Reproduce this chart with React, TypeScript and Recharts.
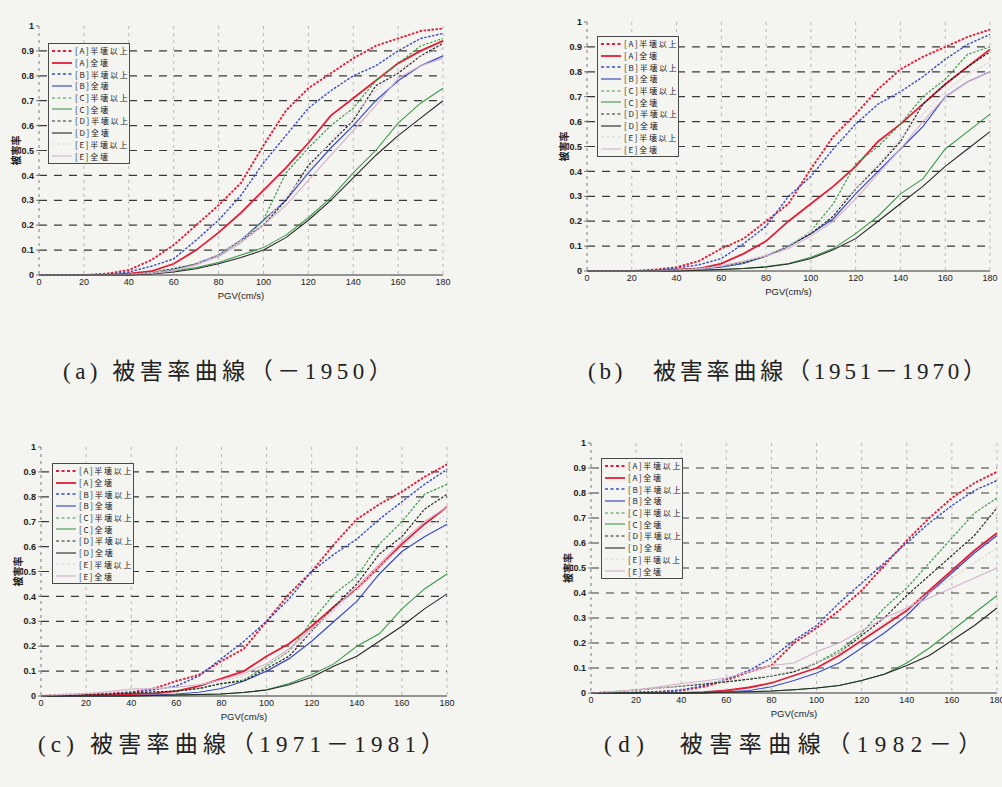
import React from 'react';
import { LineChart, Line, XAxis, YAxis, CartesianGrid, ReferenceLine, Legend } from 'recharts';

// PGV (cm/s) sample points
const pgv = [0, 10, 20, 30, 40, 50, 60, 70, 80, 90, 100, 110, 120, 130, 140, 150, 160, 170, 180];
const xTicks = [0, 20, 40, 60, 80, 100, 120, 140, 160, 180];
const yTicks = [0, 0.1, 0.2, 0.3, 0.4, 0.5, 0.6, 0.7, 0.8, 0.9, 1];
const hLines = [0.1, 0.2, 0.3, 0.4, 0.5, 0.6, 0.7, 0.8, 0.9];

// (a) -1950
const a_A_half = [0, 0, 0, 0.005, 0.02, 0.06, 0.12, 0.2, 0.28, 0.37, 0.52, 0.66, 0.75, 0.81, 0.87, 0.92, 0.95, 0.98, 0.99];
const a_A_full = [0, 0, 0, 0, 0.005, 0.015, 0.045, 0.1, 0.17, 0.25, 0.34, 0.43, 0.53, 0.64, 0.71, 0.78, 0.85, 0.9, 0.94];
const a_B_half = [0, 0, 0, 0.003, 0.012, 0.035, 0.065, 0.14, 0.22, 0.32, 0.45, 0.56, 0.67, 0.74, 0.8, 0.84, 0.9, 0.95, 0.97];
const a_B_full = [0, 0, 0, 0, 0.003, 0.008, 0.02, 0.045, 0.08, 0.14, 0.22, 0.3, 0.41, 0.51, 0.6, 0.7, 0.78, 0.84, 0.88];
const a_C_half = [0, 0, 0, 0, 0.003, 0.01, 0.025, 0.045, 0.075, 0.13, 0.22, 0.41, 0.51, 0.6, 0.67, 0.78, 0.85, 0.92, 0.95];
const a_C_full = [0, 0, 0, 0, 0, 0.005, 0.015, 0.03, 0.05, 0.08, 0.11, 0.16, 0.23, 0.31, 0.41, 0.5, 0.61, 0.69, 0.75];
const a_D_half = [0, 0, 0, 0, 0.003, 0.01, 0.025, 0.045, 0.08, 0.14, 0.2, 0.3, 0.44, 0.53, 0.62, 0.76, 0.81, 0.88, 0.93];
const a_D_full = [0, 0, 0, 0, 0, 0.004, 0.012, 0.025, 0.045, 0.07, 0.1, 0.15, 0.22, 0.3, 0.39, 0.48, 0.56, 0.63, 0.7];
const a_E_half = [0, 0, 0, 0, 0.003, 0.01, 0.02, 0.045, 0.08, 0.14, 0.21, 0.31, 0.42, 0.54, 0.64, 0.74, 0.82, 0.88, 0.91];
const a_E_full = [0, 0, 0, 0, 0.002, 0.006, 0.016, 0.04, 0.075, 0.13, 0.2, 0.28, 0.38, 0.48, 0.58, 0.68, 0.79, 0.84, 0.87];

// (b) 1951-1970
const b_A_half = [0, 0, 0, 0.005, 0.015, 0.04, 0.09, 0.13, 0.2, 0.27, 0.41, 0.54, 0.63, 0.73, 0.81, 0.86, 0.9, 0.94, 0.97];
const b_A_full = [0, 0, 0, 0, 0.005, 0.01, 0.03, 0.07, 0.12, 0.2, 0.27, 0.34, 0.42, 0.52, 0.59, 0.67, 0.75, 0.82, 0.89];
const b_B_half = [0, 0, 0, 0.004, 0.012, 0.025, 0.05, 0.11, 0.18, 0.3, 0.38, 0.49, 0.59, 0.67, 0.72, 0.78, 0.85, 0.91, 0.95];
const b_B_full = [0, 0, 0, 0, 0.003, 0.008, 0.015, 0.03, 0.06, 0.1, 0.15, 0.21, 0.31, 0.4, 0.49, 0.58, 0.7, 0.76, 0.8];
const b_C_half = [0, 0, 0, 0, 0.005, 0.01, 0.02, 0.035, 0.06, 0.1, 0.16, 0.27, 0.43, 0.5, 0.59, 0.7, 0.77, 0.87, 0.9];
const b_C_full = [0, 0, 0, 0, 0, 0.003, 0.006, 0.01, 0.018, 0.03, 0.055, 0.09, 0.15, 0.22, 0.31, 0.37, 0.49, 0.56, 0.63];
const b_D_half = [0, 0, 0, 0, 0.005, 0.01, 0.02, 0.035, 0.06, 0.1, 0.15, 0.22, 0.33, 0.42, 0.52, 0.67, 0.75, 0.82, 0.88];
const b_D_full = [0, 0, 0, 0, 0, 0.003, 0.006, 0.01, 0.016, 0.028, 0.05, 0.085, 0.13, 0.2, 0.27, 0.34, 0.42, 0.49, 0.56];
const b_E_half = [0, 0, 0, 0, 0.004, 0.01, 0.02, 0.04, 0.065, 0.1, 0.16, 0.24, 0.33, 0.43, 0.53, 0.63, 0.72, 0.79, 0.84];
const b_E_full = [0, 0, 0, 0, 0.003, 0.008, 0.02, 0.04, 0.06, 0.09, 0.14, 0.2, 0.29, 0.39, 0.49, 0.6, 0.7, 0.76, 0.8];

// (c) 1971-1981
const c_A_half = [0, 0.005, 0.008, 0.01, 0.015, 0.03, 0.06, 0.085, 0.14, 0.19, 0.3, 0.41, 0.5, 0.61, 0.71, 0.77, 0.82, 0.88, 0.93];
const c_A_full = [0, 0, 0.003, 0.005, 0.008, 0.01, 0.02, 0.04, 0.07, 0.1, 0.16, 0.21, 0.28, 0.36, 0.43, 0.52, 0.61, 0.69, 0.76];
const c_B_half = [0, 0.003, 0.005, 0.008, 0.015, 0.025, 0.04, 0.08, 0.15, 0.22, 0.3, 0.39, 0.5, 0.57, 0.63, 0.71, 0.78, 0.85, 0.91];
const c_B_full = [0, 0, 0, 0, 0.002, 0.004, 0.008, 0.015, 0.03, 0.06, 0.1, 0.15, 0.22, 0.3, 0.38, 0.49, 0.58, 0.64, 0.69];
const c_C_half = [0, 0.002, 0.005, 0.008, 0.012, 0.016, 0.02, 0.03, 0.05, 0.065, 0.12, 0.18, 0.3, 0.41, 0.48, 0.61, 0.7, 0.81, 0.85];
const c_C_full = [0, 0, 0, 0, 0, 0.002, 0.004, 0.006, 0.008, 0.015, 0.025, 0.05, 0.085, 0.13, 0.2, 0.25, 0.35, 0.43, 0.49];
const c_D_half = [0, 0.002, 0.005, 0.008, 0.012, 0.016, 0.02, 0.03, 0.05, 0.06, 0.11, 0.16, 0.26, 0.36, 0.45, 0.57, 0.64, 0.75, 0.81];
const c_D_full = [0, 0, 0, 0, 0, 0.002, 0.004, 0.006, 0.008, 0.014, 0.024, 0.045, 0.075, 0.12, 0.16, 0.22, 0.28, 0.35, 0.41];
const c_E_half = [0, 0.005, 0.01, 0.015, 0.025, 0.03, 0.035, 0.045, 0.06, 0.08, 0.12, 0.18, 0.26, 0.34, 0.43, 0.52, 0.6, 0.67, 0.73];
const c_E_full = [0, 0.005, 0.01, 0.018, 0.028, 0.03, 0.035, 0.045, 0.065, 0.09, 0.13, 0.19, 0.27, 0.35, 0.44, 0.53, 0.62, 0.7, 0.76];

// (d) 1982-
const d_A_half = [0, 0, 0.002, 0.005, 0.01, 0.025, 0.05, 0.085, 0.11, 0.2, 0.26, 0.33, 0.41, 0.51, 0.61, 0.7, 0.78, 0.84, 0.885];
const d_A_full = [0, 0, 0, 0, 0, 0.003, 0.01, 0.022, 0.04, 0.07, 0.1, 0.15, 0.21, 0.27, 0.33, 0.41, 0.49, 0.57, 0.64];
const d_B_half = [0, 0, 0.002, 0.005, 0.012, 0.03, 0.055, 0.09, 0.14, 0.21, 0.27, 0.36, 0.44, 0.52, 0.6, 0.68, 0.75, 0.81, 0.85];
const d_B_full = [0, 0, 0, 0, 0, 0, 0.004, 0.01, 0.025, 0.05, 0.08, 0.12, 0.18, 0.24, 0.31, 0.4, 0.48, 0.56, 0.63];
const d_C_half = [0, 0.005, 0.012, 0.02, 0.028, 0.036, 0.045, 0.055, 0.068, 0.085, 0.12, 0.17, 0.24, 0.34, 0.42, 0.52, 0.62, 0.72, 0.78];
const d_C_full = [0, 0, 0, 0, 0, 0.001, 0.003, 0.005, 0.008, 0.013, 0.02, 0.03, 0.05, 0.075, 0.12, 0.18, 0.25, 0.32, 0.39];
const d_D_half = [0, 0.005, 0.012, 0.02, 0.028, 0.036, 0.045, 0.055, 0.068, 0.085, 0.12, 0.16, 0.23, 0.3, 0.39, 0.47, 0.55, 0.63, 0.74];
const d_D_full = [0, 0, 0, 0, 0, 0.001, 0.003, 0.005, 0.008, 0.013, 0.02, 0.03, 0.05, 0.075, 0.11, 0.15, 0.21, 0.27, 0.34];
const d_E_half = [0, 0.005, 0.012, 0.02, 0.03, 0.04, 0.05, 0.06, 0.07, 0.09, 0.12, 0.16, 0.22, 0.28, 0.34, 0.4, 0.46, 0.52, 0.58];
const d_E_full = [0, 0.005, 0.013, 0.025, 0.038, 0.048, 0.06, 0.085, 0.11, 0.12, 0.165, 0.2, 0.25, 0.3, 0.34, 0.38, 0.42, 0.46, 0.5];

const SERIES = [
  { key: 'A_half', name: '[A]半壊以上', color: '#e11f38', dash: '2.5 1.5', width: 1.9 },
  { key: 'A_full', name: '[A]全壊', color: '#e11f38', dash: undefined, width: 1.8 },
  { key: 'B_half', name: '[B]半壊以上', color: '#3a4cc4', dash: '2.5 1.5', width: 1.4 },
  { key: 'B_full', name: '[B]全壊', color: '#3a4cc4', dash: undefined, width: 1.2 },
  { key: 'C_half', name: '[C]半壊以上', color: '#3c9a4a', dash: '2.5 1.5', width: 1.2 },
  { key: 'C_full', name: '[C]全壊', color: '#3c9a4a', dash: undefined, width: 1.1 },
  { key: 'D_half', name: '[D]半壊以上', color: '#262626', dash: '2.5 1.5', width: 1.2 },
  { key: 'D_full', name: '[D]全壊', color: '#262626', dash: undefined, width: 1.1 },
  { key: 'E_half', name: '[E]半壊以上', color: '#e0d2d8', dash: '2.5 1.5', width: 1.1 },
  { key: 'E_full', name: '[E]全壊', color: '#d6b0cc', dash: undefined, width: 1.1 },
];

function build(arrs: number[][]) {
  return pgv.map((x, i) => {
    const row: any = { pgv: x };
    SERIES.forEach((s, k) => { row[s.key] = arrs[k][i]; });
    return row;
  });
}

const dataA = build([a_A_half, a_A_full, a_B_half, a_B_full, a_C_half, a_C_full, a_D_half, a_D_full, a_E_half, a_E_full]);
const dataB = build([b_A_half, b_A_full, b_B_half, b_B_full, b_C_half, b_C_full, b_D_half, b_D_full, b_E_half, b_E_full]);
const dataC = build([c_A_half, c_A_full, c_B_half, c_B_full, c_C_half, c_C_full, c_D_half, c_D_full, c_E_half, c_E_full]);
const dataD = build([d_A_half, d_A_full, d_B_half, d_B_full, d_C_half, d_C_full, d_D_half, d_D_full, d_E_half, d_E_full]);

const BG = '#f4f4f0';
const SANS = '"Liberation Sans", Arial, sans-serif';
const CJK = '"Noto Sans CJK JP", "Noto Sans", sans-serif';

const LegendBox = () => (
  <div style={{ border: '1px solid #4a4a4a', background: BG, padding: '1px 2px 1px 2px', width: 76, boxSizing: 'content-box' }}>
    {SERIES.map((s) => (
      <div key={s.key} style={{ display: 'flex', alignItems: 'center', height: 11.7 }}>
        <svg width={22} height={8} style={{ flex: 'none' }}>
          <line x1={1} y1={4} x2={21} y2={4} stroke={s.color} strokeWidth={s.width} strokeDasharray={s.dash ? '3 2.5' : undefined} />
        </svg>
        <span style={{ fontSize: 8, letterSpacing: 1.7, marginLeft: 2, color: '#222', fontFamily: CJK, lineHeight: '11px', whiteSpace: 'nowrap' }}>{s.name}</span>
      </div>
    ))}
  </div>
);

type Box = { left: number; right: number; top: number; bottom: number };

function Panel({ box, data, legend }: { box: Box; data: any[]; legend: { x: number; y: number } }) {
  const YW = 34, MT = 10, MR = 10, XH = 35;
  const L = box.left - YW;
  const T = box.top - MT;
  const W = box.right - L + MR;
  const H = box.bottom - T + XH;
  return (
    <div style={{ position: 'absolute', left: L, top: T, width: W, height: H }}>
      <LineChart width={W} height={H} data={data} margin={{ top: MT, right: MR, left: 0, bottom: 0 }}>
        <CartesianGrid horizontal={false} stroke="#b8b8b8" strokeDasharray="3 4" />
        {hLines.map((v) => (
          <ReferenceLine key={v} y={v} stroke="#3a3a3a" strokeDasharray="8 7" strokeWidth={1.2} />
        ))}
        <XAxis
          dataKey="pgv"
          type="number"
          domain={[0, 180]}
          ticks={xTicks}
          height={XH}
          axisLine={{ stroke: '#333', strokeWidth: 1.2 }}
          tickLine={false}
          tickSize={2}
          tickMargin={2}
          tick={{ fontSize: 9, fill: '#222', fontFamily: SANS }}
          label={{
            content: ({ viewBox }: any) => (
              <text x={viewBox.x + viewBox.width / 2} y={viewBox.y + 24} textAnchor="middle" fontSize={9.5} fill="#222" fontFamily={SANS}>PGV(cm/s)</text>
            ),
          }}
        />
        <YAxis
          type="number"
          domain={[0, 1]}
          ticks={yTicks}
          width={YW}
          interval={0}
          axisLine={{ stroke: '#999', strokeDasharray: '3 4' }}
          tickLine={{ stroke: '#777' }}
          tickSize={3}
          tick={{ fontSize: 9, fill: '#222', fontFamily: SANS, fontWeight: 'bold' }}
          tickFormatter={(v: number) => (v === 0 ? '0' : v === 1 ? '1' : v.toFixed(1))}
          label={{
            content: ({ viewBox }: any) => {
              const cx = viewBox.x + 10;
              const cy = viewBox.y + viewBox.height / 2;
              return (
                <text x={cx} y={cy} transform={`rotate(-90 ${cx} ${cy})`} textAnchor="middle" dominantBaseline="central" fontSize={10} fontWeight="bold" fill="#222" fontFamily={CJK}>被害率</text>
              );
            },
          }}
        />
        <Legend
          layout="vertical"
          align="center"
          verticalAlign="middle"
          content={() => <LegendBox />}
          wrapperStyle={{ left: legend.x - L, top: legend.y - T, width: 'auto', height: 'auto' }}
        />
        {SERIES.map((s) => (
          <Line
            key={s.key}
            dataKey={s.key}
            name={s.name}
            stroke={s.color}
            strokeWidth={s.width}
            strokeDasharray={s.dash}
            dot={false}
            activeDot={false}
            type="linear"
            isAnimationActive={false}
          />
        ))}
      </LineChart>
    </div>
  );
}

const captionStyle: React.CSSProperties = {
  position: 'absolute',
  fontSize: 23,
  lineHeight: '26px',
  letterSpacing: 4.5,
  color: '#222',
  whiteSpace: 'nowrap',
  fontFamily: '"Liberation Serif", "DejaVu Serif", "Noto Sans CJK JP", serif',
};

export default function App() {
  return (
    <div style={{ position: 'fixed', left: 0, top: 0, width: 1002, height: 787, background: BG, overflow: 'hidden' }}>
      <Panel box={{ left: 39, right: 443, top: 26, bottom: 275 }} data={dataA} legend={{ x: 48, y: 43 }} />
      <Panel box={{ left: 587, right: 990, top: 22, bottom: 271 }} data={dataB} legend={{ x: 597, y: 36 }} />
      <Panel box={{ left: 41, right: 447, top: 447, bottom: 696 }} data={dataC} legend={{ x: 52, y: 463 }} />
      <Panel box={{ left: 591, right: 997, top: 443, bottom: 693 }} data={dataD} legend={{ x: 601, y: 458 }} />
      <div style={{ ...captionStyle, left: 63, top: 359 }}>(a) 被害率曲線（－1950）</div>
      <div style={{ ...captionStyle, left: 588, top: 359, letterSpacing: 3.8 }}>(b)　被害率曲線（1951－1970）</div>
      <div style={{ ...captionStyle, left: 38, top: 732, letterSpacing: 5.2 }}>(c) 被害率曲線（1971－1981）</div>
      <div style={{ ...captionStyle, left: 604, top: 732, letterSpacing: 6.5 }}>(d)　被害率曲線（1982－）</div>
    </div>
  );
}
